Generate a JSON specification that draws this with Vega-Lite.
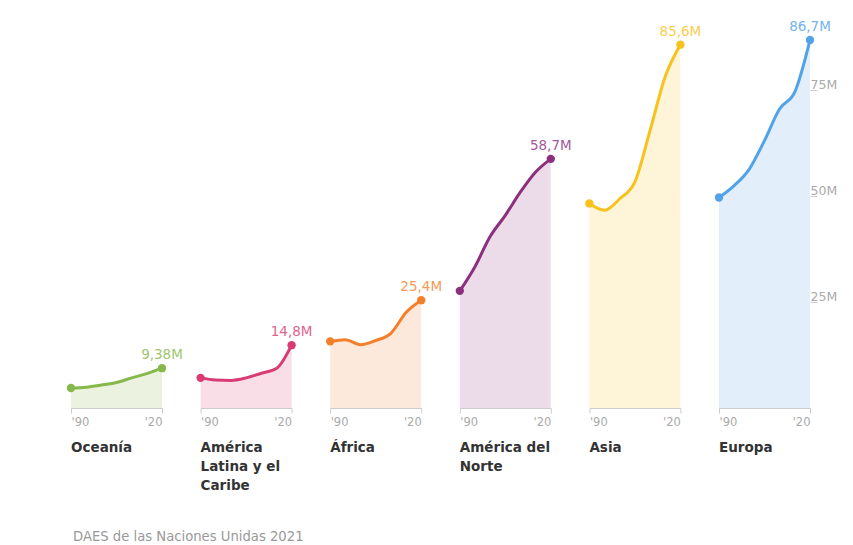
{
  "$schema": "https://vega.github.io/schema/vega-lite/v6.json",
  "padding": {"left": 65, "top": 20, "right": 5, "bottom": 5},
  "background": "white",
  "bounds": "flush",
  "config": {"view": {"stroke": null}, "font": "DejaVu Sans"},
  "title": {"text": "DAES de las Naciones Unidas 2021", "orient": "bottom", "anchor": "start", "fontSize": 13.2, "fontWeight": "normal", "color": "#999999", "offset": 39, "dx": 8, "font": "DejaVu Sans"},
  "data": {"values": [
    {"region": "Oceanía", "year": 1990, "value": 4.7},
    {"region": "Oceanía", "year": 1995, "value": 4.9},
    {"region": "Oceanía", "year": 2000, "value": 5.4},
    {"region": "Oceanía", "year": 2005, "value": 6.0},
    {"region": "Oceanía", "year": 2010, "value": 7.1},
    {"region": "Oceanía", "year": 2015, "value": 8.1},
    {"region": "Oceanía", "year": 2020, "value": 9.38, "label": "9,38M"},
    {"region": "América|Latina y el|Caribe", "year": 1990, "value": 7.1},
    {"region": "América|Latina y el|Caribe", "year": 1995, "value": 6.6},
    {"region": "América|Latina y el|Caribe", "year": 2000, "value": 6.5},
    {"region": "América|Latina y el|Caribe", "year": 2005, "value": 7.1},
    {"region": "América|Latina y el|Caribe", "year": 2010, "value": 8.2},
    {"region": "América|Latina y el|Caribe", "year": 2015, "value": 9.3},
    {"region": "América|Latina y el|Caribe", "year": 2020, "value": 14.8, "label": "14,8M"},
    {"region": "África", "year": 1990, "value": 15.7},
    {"region": "África", "year": 1995, "value": 16.1},
    {"region": "África", "year": 2000, "value": 14.9},
    {"region": "África", "year": 2005, "value": 15.9},
    {"region": "África", "year": 2010, "value": 17.6},
    {"region": "África", "year": 2015, "value": 22.5},
    {"region": "África", "year": 2020, "value": 25.4, "label": "25,4M"},
    {"region": "América del|Norte", "year": 1990, "value": 27.6},
    {"region": "América del|Norte", "year": 1995, "value": 33.3},
    {"region": "América del|Norte", "year": 2000, "value": 40.4},
    {"region": "América del|Norte", "year": 2005, "value": 45.4},
    {"region": "América del|Norte", "year": 2010, "value": 50.9},
    {"region": "América del|Norte", "year": 2015, "value": 55.6},
    {"region": "América del|Norte", "year": 2020, "value": 58.7, "label": "58,7M"},
    {"region": "Asia", "year": 1990, "value": 48.2},
    {"region": "Asia", "year": 1995, "value": 46.6},
    {"region": "Asia", "year": 2000, "value": 49.3},
    {"region": "Asia", "year": 2005, "value": 53.3},
    {"region": "Asia", "year": 2010, "value": 65.4},
    {"region": "Asia", "year": 2015, "value": 78.1},
    {"region": "Asia", "year": 2020, "value": 85.6, "label": "85,6M"},
    {"region": "Europa", "year": 1990, "value": 49.6},
    {"region": "Europa", "year": 1995, "value": 52.4},
    {"region": "Europa", "year": 2000, "value": 56.3},
    {"region": "Europa", "year": 2005, "value": 63.0},
    {"region": "Europa", "year": 2010, "value": 70.5},
    {"region": "Europa", "year": 2015, "value": 74.5},
    {"region": "Europa", "year": 2020, "value": 86.7, "label": "86,7M"}
  ]},
  "facet": {"column": {"field": "region", "type": "nominal",
    "sort": ["Oceanía", "América|Latina y el|Caribe", "África", "América del|Norte", "Asia", "Europa"],
    "header": {"title": null, "labelOrient": "bottom", "labelAnchor": "start", "labelAlign": "left", "labelExpr": "split(datum.value, '|')", "labelFont": "DejaVu Sans", "labelFontSize": 13.5, "labelFontWeight": "bold", "labelColor": "#333333", "labelLineHeight": 19, "labelPadding": 13, "labelBaseline": "top"}}},
  "spacing": 38.6,
  "spec": {
    "width": 91,
    "height": 382,
    "encoding": {
      "x": {"field": "year", "type": "quantitative", "scale": {"domain": [1990, 2020], "nice": false, "zero": false},
        "axis": {"title": null, "values": [1990, 2020], "labelExpr": "datum.value == 1990 ? \"'90\" : \"'20\"", "labelFlush": true, "grid": false, "domainColor": "#cccccc", "tickColor": "#cccccc", "tickSize": 5, "labelColor": "#aaaaaa", "labelFontSize": 11.5, "labelFont": "DejaVu Sans", "labelPadding": 3}},
      "y": {"field": "value", "type": "quantitative", "scale": {"domain": [0, 90], "nice": false},
        "axis": {"title": null, "orient": "right", "values": [25, 50, 75], "labelExpr": "datum.value + 'M'", "domain": false, "grid": false, "tickColor": "#cccccc", "tickSize": 7, "labelPadding": -7, "labelAlign": "left", "labelBaseline": "alphabetic", "labelOffset": -1, "labelColor": "#aaaaaa", "labelFontSize": 12.5, "labelFont": "DejaVu Sans"}},
      "color": {"field": "region", "type": "nominal",
        "scale": {"domain": ["Oceanía", "América|Latina y el|Caribe", "África", "América del|Norte", "Asia", "Europa"],
                  "range": ["#86b84a", "#d93c74", "#f57f29", "#8c2f7e", "#f8c21c", "#52a2e8"]},
        "legend": null}
    },
    "layer": [
      {"mark": {"type": "area", "interpolate": "monotone", "opacity": 0.17}},
      {"mark": {"type": "line", "interpolate": "monotone", "strokeWidth": 3}},
      {"transform": [{"filter": "datum.year == 1990 || datum.year == 2020"}], "mark": {"type": "circle", "size": 70, "opacity": 1}},
      {"transform": [{"filter": "datum.year == 2020"}], "mark": {"type": "text", "dy": -13, "fontSize": 13.5, "opacity": 0.8, "baseline": "middle", "font": "DejaVu Sans"}, "encoding": {"text": {"field": "label"}}}
    ]
  }
}
